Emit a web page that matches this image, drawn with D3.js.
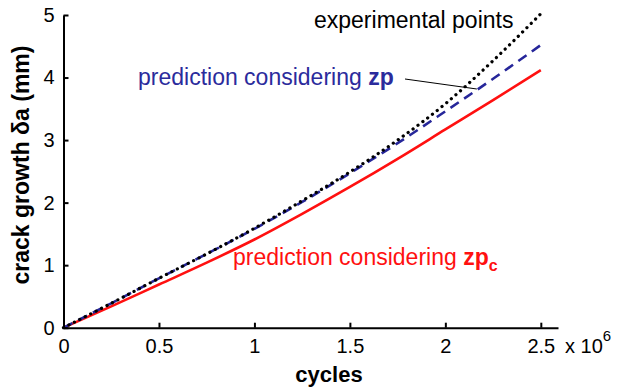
<!DOCTYPE html>
<html>
<head>
<meta charset="utf-8">
<script src="https://cdn.jsdelivr.net/npm/d3@7"></script>
<style>
  html, body { margin: 0; padding: 0; background: #fff; }
  svg { display: block; font-family: "Liberation Sans", Arial, sans-serif; }
</style>
</head>
<body>
<svg id="chart" width="619" height="390"></svg>
<script>
// cycles (x 10^6)
const cycles = [0, 0.25, 0.5, 0.75, 1.0, 1.25, 1.5, 1.75, 2.0, 2.25, 2.5];
// crack growth (mm)
const experimental = [0, 0.39, 0.79, 1.18, 1.59, 2.03, 2.49, 3.00, 3.58, 4.27, 5.02];
const predictionZp = [0, 0.39, 0.79, 1.18, 1.58, 2.01, 2.47, 2.95, 3.46, 3.98, 4.52];
const predictionZpc = [0, 0.34, 0.69, 1.04, 1.41, 1.82, 2.25, 2.70, 3.17, 3.64, 4.12];
const xTicks = [0, 0.5, 1, 1.5, 2, 2.5];
const xTickLabels = ["0", "0.5", "1", "1.5", "2", "2.5"];
const yTicks = [0, 1, 2, 3, 4, 5];

const svg = d3.select("#chart");
const x = d3.scaleLinear().domain([0, 2.59]).range([63.5, 558]);
const y = d3.scaleLinear().domain([0, 5]).range([327.7, 15]);

const line = d3.line()
  .x((d, i) => x(cycles[i]))
  .y(d => y(d))
  .curve(d3.curveMonotoneX);

// prediction considering zp_c (solid red)
svg.append("path")
  .datum(predictionZpc)
  .attr("d", line)
  .attr("fill", "none")
  .attr("stroke", "#ff1010")
  .attr("stroke-width", 2.6);

// prediction considering zp (dashed blue)
svg.append("path")
  .datum(predictionZp)
  .attr("d", line)
  .attr("fill", "none")
  .attr("stroke", "#26269a")
  .attr("stroke-width", 2.6)
  .attr("stroke-dasharray", "10,6.5");

// experimental points (dotted black)
svg.append("path")
  .datum(experimental)
  .attr("d", line)
  .attr("fill", "none")
  .attr("stroke", "#000")
  .attr("stroke-width", 3.2)
  .attr("stroke-linecap", "round")
  .attr("stroke-dasharray", "0.1,6");

// axes
const xAxis = svg.append("g")
  .attr("transform", `translate(0,${y(0)})`)
  .call(d3.axisBottom(x).tickValues(xTicks)
    .tickFormat((d, i) => xTickLabels[i])
    .tickSizeInner(-5).tickSizeOuter(0).tickPadding(12));
const yAxis = svg.append("g")
  .attr("transform", `translate(${x(0)},0)`)
  .call(d3.axisLeft(y).tickValues(yTicks).tickFormat(d3.format("d"))
    .tickSizeInner(-5).tickSizeOuter(0).tickPadding(9));

[xAxis, yAxis].forEach(g => {
  g.select(".domain").attr("stroke", "#000").attr("stroke-width", 2);
  g.selectAll(".tick line").attr("stroke", "#000").attr("stroke-width", 2);
  g.selectAll(".tick text")
    .attr("fill", "#000")
    .style("font-family", "'Liberation Sans', Arial, sans-serif")
    .style("font-size", "20px");
});
xAxis.selectAll(".tick text").attr("dy", "0.71em").attr("y", 11);

// x 10^6 multiplier
const mult = svg.append("text")
  .attr("x", 565).attr("y", 353)
  .style("font-size", "20px").attr("fill", "#000");
mult.append("tspan").text("x 10");
mult.append("tspan").attr("dy", -12).style("font-size", "15px").text("6");

// axis titles
svg.append("text")
  .attr("x", 329).attr("y", 382)
  .attr("text-anchor", "middle")
  .style("font-size", "22px").style("font-weight", "bold")
  .text("cycles");
svg.append("text")
  .attr("transform", "translate(29,165) rotate(-90)")
  .attr("text-anchor", "middle")
  .style("font-size", "23px").style("font-weight", "bold")
  .text("crack growth δa (mm)");

// annotations
svg.append("text")
  .attr("x", 314).attr("y", 28)
  .style("font-size", "23px").attr("fill", "#000")
  .text("experimental points");

const blueLabel = svg.append("text")
  .attr("x", 138).attr("y", 85)
  .style("font-size", "23px").attr("fill", "#2b2b9c");
blueLabel.append("tspan").text("prediction considering ");
blueLabel.append("tspan").style("font-weight", "bold").text("zp");

svg.append("line")
  .attr("x1", 405).attr("y1", 79)
  .attr("x2", x(2.165)).attr("y2", 89)
  .attr("stroke", "#000").attr("stroke-width", 1);

const redLabel = svg.append("text")
  .attr("x", 233).attr("y", 265)
  .style("font-size", "23px").attr("fill", "#ff1010");
redLabel.append("tspan").text("prediction considering ");
redLabel.append("tspan").style("font-weight", "bold").text("zp");
redLabel.append("tspan").attr("dy", 6).style("font-weight", "bold")
  .style("font-size", "16px").text("c");
</script>
</body>
</html>
